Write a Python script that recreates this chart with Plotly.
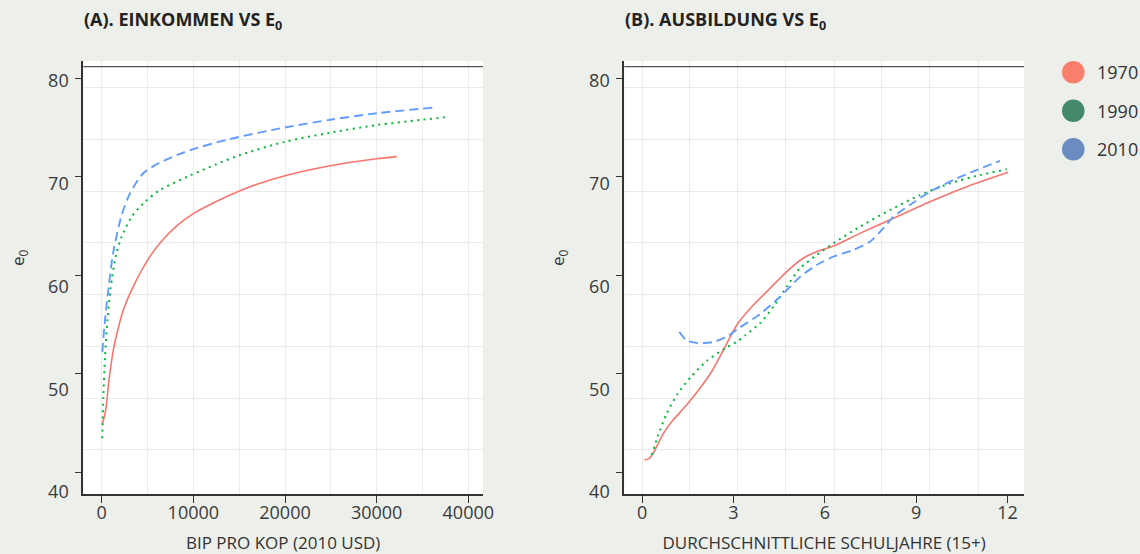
import plotly.graph_objects as go

W, H = 1140, 554

# ---------------- data ----------------
years = ["1970", "1990", "2010"]
line_colors = ["#F8766D", "#00BA38", "#619CFF"]
legend_colors = ["#F77F6C", "#43896A", "#6A8CC0"]

# Panel A: GDP per capita vs e0
gdp_1970 = [65, 436, 797, 1266, 1811, 2324, 3088, 4910, 6361, 8183, 9995, 12548, 15090, 17272, 20000, 22728, 26361, 30005, 32187]
e0_gdp_1970 = [44.87, 46.32, 49.37, 52.41, 54.65, 56.38, 58.17, 61.40, 63.29, 65.02, 66.26, 67.52, 68.59, 69.34, 70.10, 70.71, 71.35, 71.83, 72.05]

gdp_1990 = [65, 175, 360, 633, 960, 1560, 2182, 3273, 4725, 6361, 9635, 12548, 15090, 20000, 24910, 30005, 34697, 37425]
e0_gdp_1990 = [43.45, 47.64, 51.71, 55.56, 58.61, 62.06, 63.92, 65.95, 67.47, 68.66, 70.13, 71.30, 72.21, 73.56, 74.48, 75.26, 75.77, 76.04]

gdp_2010 = [65, 360, 720, 1266, 2182, 3088, 4539, 6361, 8543, 9995, 13994, 20000, 24910, 30005, 36552]
e0_gdp_2010 = [52.21, 55.46, 58.51, 62.37, 66.12, 68.32, 70.36, 71.45, 72.33, 72.82, 73.84, 75.01, 75.79, 76.45, 77.06]

# Panel B: mean years of schooling vs e0
edu_1970 = [0.08, 0.24, 0.39, 0.70, 0.97, 1.46, 1.90, 2.28, 2.67, 3.11, 3.60, 4.20, 4.75, 5.29, 5.73, 6.28, 7.15, 8.25, 9.45, 10.66, 12.02]
e0_edu_1970 = [41.25, 41.42, 42.09, 43.96, 45.14, 46.83, 48.53, 50.21, 52.42, 54.96, 56.81, 58.68, 60.38, 61.73, 62.40, 62.97, 64.26, 65.79, 67.47, 69.00, 70.46]

edu_1990 = [0.32, 0.53, 0.81, 1.16, 1.61, 2.12, 2.72, 3.11, 3.38, 3.87, 4.31, 4.75, 5.18, 5.73, 6.28, 7.15, 8.14, 9.12, 10.11, 11.09, 11.97]
e0_edu_1990 = [41.76, 43.79, 45.99, 47.95, 49.71, 51.30, 52.59, 53.26, 53.89, 55.13, 56.81, 58.84, 60.71, 62.06, 63.25, 64.93, 66.63, 68.15, 69.34, 70.18, 70.76]

edu_2010 = [1.22, 1.46, 1.90, 2.34, 2.78, 3.21, 3.87, 4.53, 5.19, 5.73, 6.28, 6.93, 7.48, 7.92, 8.25, 8.79, 9.45, 10.22, 10.98, 11.75]
e0_edu_2010 = [54.27, 53.38, 53.10, 53.23, 53.77, 54.70, 56.07, 57.83, 59.86, 61.05, 61.89, 62.57, 63.41, 64.77, 65.95, 67.14, 68.49, 69.68, 70.69, 71.63]

# axis ticks / labels / grid
y_tick_vals = [40, 50, 60, 70, 80]
y_label_vals = [38.0, 48.43, 58.84, 69.27, 79.76]
y_label_text = ["40", "50", "60", "70", "80"]
y_grid_vals = [42.33, 47.54, 52.82, 58.07, 63.31, 68.51, 73.81, 79.09]
y_range = [37.77, 81.76]
y_topline = 81.18

xa_tick_vals = [0, 10000, 20000, 30000, 40000]
xa_tick_text = ["0", "10000", "20000", "30000", "40000"]
xa_grid_vals = [0, 5000, 10000, 15000, 20000, 25000, 30000, 35000, 40000]
xa_range = [-2008, 41603]

xb_tick_vals = [0, 3, 6, 9, 12]
xb_tick_text = ["0", "3", "6", "9", "12"]
xb_grid_vals = [0, 1.566, 3.13, 4.72, 6.31, 7.87, 9.45, 11.04]
xb_range = [-0.584, 12.54]

titles = ["(A). EINKOMMEN VS E<sub>0</sub>", "(B). AUSBILDUNG VS E<sub>0</sub>"]
x_titles = ["BIP PRO KOP (2010 USD)", "DURCHSCHNITTLICHE SCHULJAHRE (15+)"]
y_title = "e<sub>0</sub>"

# ---------------- figure ----------------
FONT = "Open Sans"
dashes = ["solid", "2px,4.5px", "9px,5px"]
widths = [1.6, 2.0, 1.9]

fig = go.Figure()
panelA = [(gdp_1970, e0_gdp_1970), (gdp_1990, e0_gdp_1990), (gdp_2010, e0_gdp_2010)]
panelB = [(edu_1970, e0_edu_1970), (edu_1990, e0_edu_1990), (edu_2010, e0_edu_2010)]
for i, (xs, ys) in enumerate(panelA):
    fig.add_trace(go.Scatter(x=xs, y=ys, mode="lines", name=years[i], showlegend=False,
                             line=dict(color=line_colors[i], width=widths[i], dash=dashes[i], shape="spline", smoothing=0.8),
                             xaxis="x", yaxis="y"))
for i, (xs, ys) in enumerate(panelB):
    fig.add_trace(go.Scatter(x=xs, y=ys, mode="lines", name=years[i], showlegend=False,
                             line=dict(color=line_colors[i], width=widths[i], dash=dashes[i], shape="spline", smoothing=0.6),
                             xaxis="x2", yaxis="y2"))

dom_a = [83.3 / W, 483 / W]
dom_b = [624.3 / W, 1024 / W]
dom_y = [(H - 494.3) / H, (H - 61) / H]

grid_col = "#EBEBEB"
axis_col = "#333333"
tick_font = dict(family=FONT, size=18, color="#3a3a3a")


def xaxis(domain, rng, tv, tt, gv, title, anchor):
    return dict(domain=domain, range=rng, anchor=anchor, automargin=False, tickmode="array", tickvals=tv, ticktext=tt,
                ticks="outside", ticklen=7, tickwidth=1.3, tickcolor=axis_col, showgrid=False,
                showline=True, linecolor=axis_col, linewidth=1.5, zeroline=False,
                tickfont=tick_font, ticklabelstandoff=-6,
                minor=dict(tickmode="array", tickvals=gv, showgrid=True, gridcolor=grid_col, gridwidth=1, ticks=""),
                title=dict(text=title, font=dict(family=FONT, size=17, color="#333333"), standoff=16))


def yaxis(anchor):
    return dict(domain=dom_y, range=y_range, anchor=anchor, automargin=False, tickmode="array", tickvals=y_tick_vals,
                showticklabels=False, ticks="outside", ticklen=7, tickwidth=1.3, tickcolor=axis_col,
                showgrid=False, showline=True, linecolor=axis_col, linewidth=1.5, zeroline=False,
                minor=dict(tickmode="array", tickvals=y_grid_vals, showgrid=True, gridcolor=grid_col, gridwidth=1, ticks=""))


def ylabels(anchor, over):
    return dict(overlaying=over, anchor=anchor, side="left", range=y_range, automargin=False, tickmode="array",
                tickvals=y_label_vals, ticktext=y_label_text, ticks="outside", ticklen=10,
                tickcolor="rgba(0,0,0,0)", showgrid=False, showline=False, zeroline=False, tickfont=tick_font)


fig.update_layout(
    width=W, height=H, autosize=False,
    margin=dict(l=0, r=0, t=0, b=0, autoexpand=False),
    paper_bgcolor="#EDEFEB", plot_bgcolor="#FFFFFF",
    font=dict(family=FONT, color="#333333"),
    showlegend=False,
    xaxis=xaxis(dom_a, xa_range, xa_tick_vals, xa_tick_text, xa_grid_vals, x_titles[0], "y"),
    yaxis=yaxis("x"),
    xaxis2=xaxis(dom_b, xb_range, xb_tick_vals, xb_tick_text, xb_grid_vals, x_titles[1], "y2"),
    yaxis2=yaxis("x2"),
    yaxis3=ylabels("x", "y"),
    yaxis4=ylabels("x2", "y2"),
)
# dummy traces so overlay label axes render
fig.add_trace(go.Scatter(x=[None], y=[None], xaxis="x", yaxis="y3", showlegend=False, hoverinfo="skip"))
fig.add_trace(go.Scatter(x=[None], y=[None], xaxis="x2", yaxis="y4", showlegend=False, hoverinfo="skip"))

# top frame lines
for xr, yr in [("x domain", "y"), ("x2 domain", "y2")]:
    fig.add_shape(type="line", xref=xr, yref=yr, x0=0, x1=1, y0=y_topline, y1=y_topline,
                  line=dict(color="#555555", width=1.3))

# panel titles
for t, x0 in zip(titles, [82 / W, 622.5 / W]):
    fig.add_annotation(text="<b>" + t + "</b>", xref="paper", yref="paper", x=x0, y=1 - 20.5 / H,
                       xanchor="left", yanchor="middle", showarrow=False,
                       font=dict(family=FONT, size=18, color="#222222"))

# y titles
for xp in [18 / W, 558 / W]:
    fig.add_annotation(text=y_title, xref="paper", yref="paper", x=xp, y=1 - 258 / H,
                       xanchor="center", yanchor="middle", textangle=-90, showarrow=False,
                       font=dict(family=FONT, size=17, color="#333333"))

# legend (circles + labels)
leg_y = [72.3, 110.7, 149.3]
r = 11.3
cx = 1073.3
for lab, col, yy in zip(years, legend_colors, leg_y):
    fig.add_shape(type="circle", xref="paper", yref="paper",
                  x0=(cx - r) / W, x1=(cx + r) / W, y0=1 - (yy + r) / H, y1=1 - (yy - r) / H,
                  fillcolor=col, line=dict(width=0))
    fig.add_annotation(text=lab, xref="paper", yref="paper", x=1095 / W, y=1 - yy / H,
                       xanchor="left", yanchor="middle", showarrow=False,
                       font=dict(family=FONT, size=18, color="#333333"))

fig.write_html("out.html")
